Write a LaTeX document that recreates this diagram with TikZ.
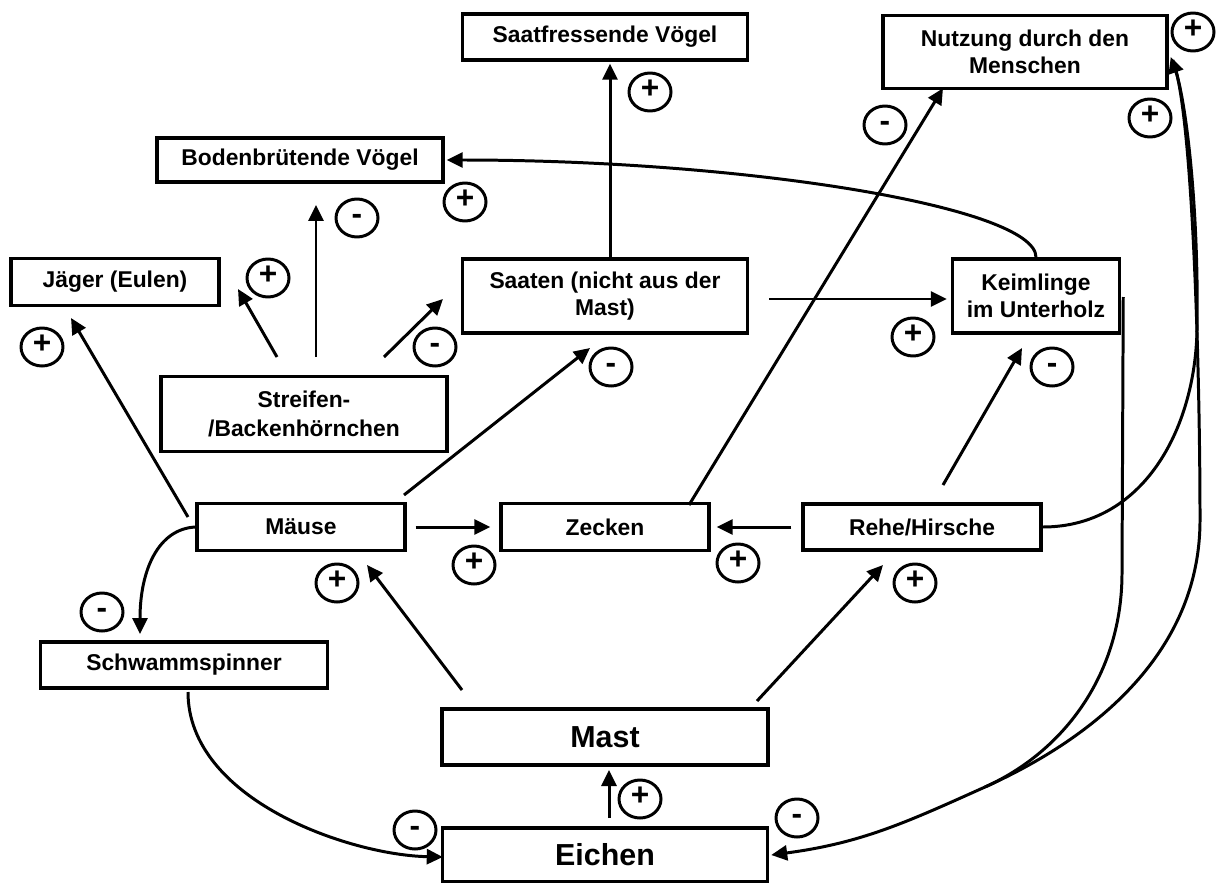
\documentclass[tikz,border=0pt]{standalone}
\usepackage{fontspec}
\setmainfont{Liberation Sans}
\usetikzlibrary{arrows.meta,shapes.geometric}
\tikzset{box/.style={draw, line width=2pt, inner sep=0pt, align=center, font=\bfseries\fontsize{13}{15.5}\selectfont},
  bigbox/.style={box, font=\bfseries\fontsize{17.3}{20}\selectfont},
  sign/.style={draw, ellipse, line width=1.7pt, minimum width=0.84cm, minimum height=0.76cm, inner sep=0pt,
    text height=0.7em, text depth=0pt, font=\bfseries\fontsize{18}{18}\selectfont},
  arr/.style={line width=1.7pt, -{Triangle[length=0.32cm,width=0.3cm]}},
  link/.style={line width=1.7pt}}

\begin{document}
\begin{tikzpicture}[x=0.02cm,y=-0.02cm]
   \useasboundingbox (0,0) rectangle (1216,882);
   \node[box, minimum width=5.7cm,  minimum height=0.92cm] (saatv)    at (605,37)   {Saatfressende Vögel};
   \node[box, minimum width=5.68cm, minimum height=1.46cm] (nutzung)  at (1025,52)  {Nutzung durch den\\Menschen};
   \node[box, minimum width=5.72cm, minimum height=0.88cm] (boden)    at (300,160)  {Bodenbrütende Vögel};
   \node[box, minimum width=4.16cm, minimum height=0.94cm] (jaeger)   at (115,282)  {Jäger (Eulen)};
   \node[box, minimum width=5.7cm,  minimum height=1.48cm] (saaten)   at (605,296)  {Saaten (nicht aus der\\Mast)};
   \node[box, minimum width=3.34cm, minimum height=1.48cm] (keim)     at (1036,296) {Keimlinge\\im Unterholz};
   \node[box, minimum width=5.72cm, minimum height=1.5cm]  (streifen) at (304,414)  {Streifen-\\[1pt]/Backenhörnchen};
   \node[box, minimum width=4.16cm, minimum height=0.94cm] (maeuse)   at (301,527)  {Mäuse};
   \node[box, minimum width=4.16cm, minimum height=0.94cm] (zecken)   at (605,527)  {Zecken};
   \node[box, minimum width=4.76cm, minimum height=0.92cm] (rehe)     at (922,527)  {Rehe/Hirsche};
   \node[box, minimum width=5.74cm, minimum height=0.92cm] (schwamm)  at (184,665)  {Schwammspinner};
   \node[bigbox, minimum width=6.52cm, minimum height=1.12cm] (mast)   at (605,737)  {Mast};
   \node[bigbox, minimum width=6.5cm,  minimum height=1.08cm] (eichen) at (605,855)  {Eichen};
   \coordinate (bendr) at (1197,330);
   \coordinate (bendd) at (1200,520);
   \coordinate (bendk) at (1122,573);
   \coordinate (merge) at (985,787);
   % upper part
   \draw[arr] ([shift={(5,0)}]saaten.north) -- ([shift={(5,2)}]saatv.south);
   \draw[arr] ([shift={(20,3)}]saaten.east) -- ([shift={(-4,3)}]keim.west);
   \draw[arr] (keim.north) .. controls +(0,-50) and +(300,0) .. ([shift={(2,0)}]boden.east);
   \draw[arr] ([shift={(-27,-57)}]streifen.center) -- ([shift={(123,7)}]jaeger.center);
   \draw[arr] ([shift={(12,-57)}]streifen.center)  -- ([shift={(16,45)}]boden.center);
   \draw[arr] ([shift={(80,-57)}]streifen.center)  -- ([shift={(-162,3)}]saaten.center);
   % middle row
   \draw[arr] ([shift={(-113,-10)}]maeuse.center) -- ([shift={(-44,36)}]jaeger.center);
   \draw[arr] ([shift={(103,-32)}]maeuse.center)  -- ([shift={(-15,52)}]saaten.center);
   \draw[arr] ([shift={(9,0)}]maeuse.east) -- ([shift={(-9,0)}]zecken.west);
   \draw[arr] (maeuse.west) .. controls +(-37,2) and +(0,-64) .. ([shift={(-44,-31)}]schwamm.center);
   \draw[arr] ([shift={(84,-22)}]zecken.center) -- ([shift={(-82,-2)}]nutzung.south);
   \draw[arr] ([shift={(-10,0)}]rehe.west) -- ([shift={(6,0)}]zecken.east);
   \draw[arr] ([shift={(21,-42)}]rehe.center) -- ([shift={(-14,52)}]keim.center);
   % lower part
   \draw[arr] ([shift={(-143,-47)}]mast.center) -- ([shift={(66,38)}]maeuse.center);
   \draw[arr] ([shift={(152,-36)}]mast.center)  -- ([shift={(-39,38)}]rehe.center);
   \draw[arr] ([shift={(4,-37)}]eichen.center)  -- ([shift={(4,33)}]mast.center);
   \draw[arr] ([shift={(4,27)}]schwamm.center) .. controls +(0,108) and +(-93,-2) .. ([shift={(2,2)}]eichen.west);
   % right side
   \draw[arr] (rehe.east) .. controls +(100,0) and +(-2,100) .. (bendr)
              .. controls +(2,-130) and +(14,40) .. ([shift={(2,5)}]nutzung.east);
   \draw[link] ([shift={(4,8)}]nutzung.east) .. controls +(20,50) and +(0,-150) .. (bendd)
              .. controls +(0,150) and +(80,-36) .. (merge);
   \draw[link] ([shift={(2,1)}]keim.east) -- (bendk) .. controls +(0,100) and +(80,-36) .. (merge);
   \draw[arr] (merge) .. controls +(-80,36) and +(90,-12) .. ([shift={(2,0)}]eichen.east);
   % signs
   \foreach \x/\y/\s [count=\n] in {650/92/+, 1193/32/+, 1150/118/+, 885/125/-, 465/202/+, 357/218/-,
       268/278/+, 435/347/-, 42/347/+, 611/367/-, 913/337/+, 1052/367/-, 337/583/+, 474/565/+,
       738/563/+, 915/583/+, 102/612/-, 415/830/-, 640/799/+, 797/818/-}
     \node[sign] (sign\n) at (\x,\y) {\s};
\end{tikzpicture}
\end{document}
